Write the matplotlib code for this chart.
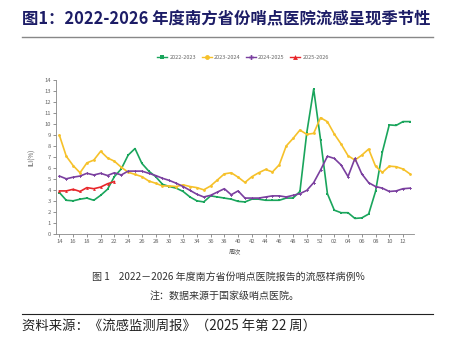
import matplotlib
matplotlib.use("Agg")
import matplotlib.pyplot as plt
from matplotlib.lines import Line2D

plt.rcParams['font.family'] = ['Noto Sans CJK SC', 'DejaVu Sans']

weeks = [f"{w:02d}" for w in range(14, 53)] + [f"{w:02d}" for w in range(1, 14)]
tick_labels = [w for i, w in enumerate(weeks) if i % 2 == 0]

s2022 = [3.8, 3.1, 3.05, 3.2, 3.3, 3.1, 3.55, 4.1, 5.25, 5.95, 7.2, 7.8, 6.45, 5.75,
         5.25, 4.55, 4.35, 4.2, 3.9, 3.4, 3.05, 2.95, 3.5, 3.4, 3.3, 3.2, 3.0, 2.95,
         3.2, 3.2, 3.1, 3.1, 3.1, 3.3, 3.3, 3.9, 9.25, 13.2, 8.6, 3.7, 2.2, 1.97,
         1.97, 1.45, 1.5, 1.85, 3.9, 7.5, 9.95, 9.9, 10.25, 10.25]
s2023 = [9.0, 7.1, 6.25, 5.6, 6.5, 6.75, 7.55, 6.95, 6.65, 6.1, 5.65, 5.45, 5.25, 4.85,
         4.65, 4.4, 4.4, 4.35, 4.5, 4.35, 4.25, 4.05, 4.4, 4.95, 5.5, 5.6, 5.2, 4.72,
         5.24, 5.6, 5.9, 5.67, 6.33, 8.03, 8.72, 9.48, 9.09, 9.18, 10.6, 10.24, 9.12,
         8.2, 7.15, 6.75, 7.2, 7.75, 6.2, 5.63, 6.2, 6.15, 5.94, 5.5]
s2024 = [5.3, 5.05, 5.2, 5.3, 5.55, 5.4, 5.55, 5.35, 5.6, 5.4, 5.75, 5.75, 5.75, 5.55,
         5.35, 5.1, 4.9, 4.65, 4.35, 4.0, 3.65, 3.4, 3.55, 3.85, 4.15, 3.6, 3.95, 3.3,
         3.3, 3.3, 3.4, 3.5, 3.5, 3.4, 3.55, 3.7, 4.0, 4.7, 5.85, 7.1, 6.9, 6.3, 5.25,
         6.9, 5.5, 4.7, 4.35, 4.2, 3.9, 3.95, 4.15, 4.2]
s2025 = [3.95, 3.95, 4.1, 3.9, 4.25, 4.15, 4.3, 4.6, 4.8]

series = [
    ("2022-2023", s2022, "#1aa55c", "s"),
    ("2023-2024", s2023, "#f6c12a", "o"),
    ("2024-2025", s2024, "#7a3f9f", "P"),
    ("2025-2026", s2025, "#e8262a", "^"),
]

fig = plt.figure(figsize=(4.5, 3.53), dpi=100)
ax = fig.add_axes([0.1244, 0.336, 0.7956, 0.4365])

for name, vals, col, mk in series:
    ax.plot(range(len(vals)), vals, color=col, lw=1.2, marker=mk, ms=2.0,
            markeredgewidth=0, label=name)

ax.set_xlim(-0.5, 51.6)
ax.set_ylim(0, 14)
ax.set_yticks(range(0, 15))
ax.set_xticks(range(0, 52, 2))
ax.set_xticklabels(tick_labels)
ax.tick_params(labelsize=4.2, colors="#666666", length=2, width=0.5, pad=1.5)
for sp in ["top", "right"]:
    ax.spines[sp].set_visible(False)
for sp in ["left", "bottom"]:
    ax.spines[sp].set_color("#888888")
    ax.spines[sp].set_linewidth(0.6)
ax.set_xlabel("周次", fontsize=4.5, color="#555555", labelpad=3)
ax.set_ylabel("ILI(%)", fontsize=4.5, color="#555555", labelpad=6)

handles = [Line2D([0], [0], color=c, lw=1, marker=m, ms=3.5, markeredgewidth=0)
           for _, _, c, m in series]
fig.legend(handles, [s[0] for s in series], loc="center", bbox_to_anchor=(0.54, 0.836),
           ncol=4, frameon=False, fontsize=4, handlelength=1.8, columnspacing=1.0,
           handletextpad=0.4, labelcolor="#666666")

fig.text(0.049, 0.948, "图1：2022-2026 年度南方省份哨点医院流感呈现季节性",
         fontsize=11.8, fontweight="bold", color="#1c1c66", ha="left", va="center")
fig.add_artist(Line2D([0.049, 0.962], [0.896, 0.896], color="#888888", lw=1.0))

fig.text(0.507, 0.215, "图 1    2022－2026 年度南方省份哨点医院报告的流感样病例%",
         fontsize=7.2, color="#333333", ha="center", va="center")
fig.text(0.5, 0.163, "注：数据来源于国家级哨点医院。",
         fontsize=7.2, color="#333333", ha="center", va="center")
fig.add_artist(Line2D([0.049, 0.962], [0.111, 0.111], color="#222222", lw=0.8))
fig.text(0.049, 0.077, "资料来源：《流感监测周报》（2025 年第 22 周）",
         fontsize=9.6, color="#222222", ha="left", va="center")

fig.savefig("out.png", dpi=100)
